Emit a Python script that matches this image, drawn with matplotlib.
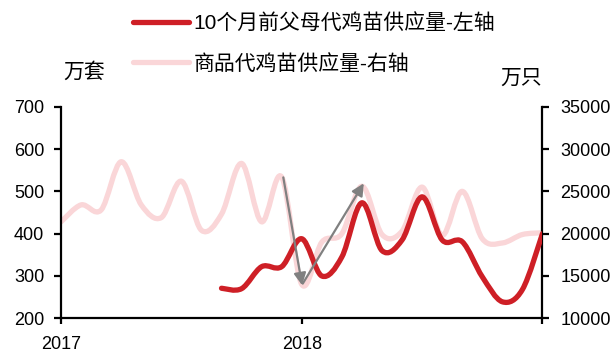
import numpy as np
import matplotlib
matplotlib.use("Agg")
import matplotlib.pyplot as plt
from matplotlib.path import Path
from matplotlib.patches import PathPatch
from matplotlib.lines import Line2D

plt.rcParams['font.family'] = ['Liberation Sans', 'Noto Sans CJK SC', 'DejaVu Sans']

# months counted from Jan 2017
pink_months = list(range(0, 25))
pink_vals = [21400, 23400, 22800, 28500, 23400, 21900, 26200, 20400, 22300, 28300, 21400, 26700,
             14000, 19000, 20000, 25600, 19900, 20300, 25500, 19800, 25000, 19400, 18900, 19900, 20100]

red_months = list(range(8, 25))
red_vals = [271, 270, 322, 322, 388, 300, 345, 473, 360, 385, 487, 385, 381, 298, 239, 268, 400]

year_ticks = [0, 12, 24]
year_labels = ['2017', '2018', '']

red_label = '10个月前父母代鸡苗供应量-左轴'
pink_label = '商品代鸡苗供应量-右轴'

RED = '#CE1F26'
PINK = '#FAD6D8'
GREY = '#808080'

# arrows: (month, right-axis value)
arrow_down = ((11.08, 26650), (12.02, 13900))
arrow_up = ((12.05, 14100), (15.09, 25950))


def smooth_path(xs, ys):
    # Catmull-Rom curve through the points, written as cubic Bezier segments
    pts = np.column_stack([xs, ys]).astype(float)
    n = len(pts)
    verts = [pts[0]]
    codes = [Path.MOVETO]
    for i in range(n - 1):
        p0 = pts[max(i - 1, 0)]
        p1 = pts[i]
        p2 = pts[i + 1]
        p3 = pts[min(i + 2, n - 1)]
        verts += [p1 + (p2 - p0) / 6, p2 - (p3 - p1) / 6, p2]
        codes += [Path.CURVE4] * 3
    return Path(verts, codes)


fig = plt.figure(figsize=(6.12, 3.53), dpi=100)
ax = fig.add_axes([0.0997, 0.0983, 0.7867, 0.5994])
ax2 = ax.twinx()
ax.set_zorder(ax2.get_zorder() + 1)
ax.patch.set_visible(False)

lw = 3.8
ax2.add_patch(PathPatch(smooth_path(pink_months, pink_vals), fill=False,
                        edgecolor=PINK, lw=lw, capstyle='round', joinstyle='round'))
ax.add_patch(PathPatch(smooth_path(red_months, red_vals), fill=False,
                       edgecolor=RED, lw=lw, capstyle='round', joinstyle='round'))

for start, end in (arrow_down, arrow_up):
    ax.annotate('', xy=end, xytext=start, xycoords=ax2.transData, textcoords=ax2.transData,
                arrowprops=dict(arrowstyle='-|>', color=GREY, lw=1.6, mutation_scale=18,
                                shrinkA=0, shrinkB=0))

ax.set_xlim(0, 24)
ax.set_ylim(200, 700)
ax2.set_ylim(10000, 35000)
ax.set_yticks(range(200, 701, 100))
ax2.set_yticks(range(10000, 35001, 5000))
ax.set_xticks(year_ticks)
ax.set_xticklabels(year_labels)

for a in (ax, ax2):
    a.spines['top'].set_visible(False)
    for s in a.spines.values():
        s.set_linewidth(1.6)
ax.spines['right'].set_visible(False)
ax2.spines['left'].set_visible(False)
ax2.spines['bottom'].set_visible(False)

ax.tick_params(axis='y', direction='out', length=5, width=1.6, labelsize=13, pad=7)
ax.tick_params(axis='x', direction='out', length=4, width=1.6, labelsize=13, pad=9)
ax2.tick_params(axis='y', direction='out', length=5, width=1.6, labelsize=13, pad=8)

fig.text(84 / 612, 1 - 72.5 / 353, '万套', fontsize=15, ha='center', va='center')
fig.text(521 / 612, 1 - 78.3 / 353, '万只', fontsize=15, ha='center', va='center')

handles = [Line2D([], [], color=RED, lw=lw, solid_capstyle='round'),
           Line2D([], [], color=PINK, lw=lw, solid_capstyle='round')]
fig.legend(handles, [red_label, pink_label], loc='upper left',
           bbox_to_anchor=(133 / 612, 1 - 13 / 353), frameon=False, fontsize=15,
           handlelength=2.7, handletextpad=0.2, labelspacing=1.0, borderpad=0,
           borderaxespad=0)

fig.savefig('out.png', dpi=100)
